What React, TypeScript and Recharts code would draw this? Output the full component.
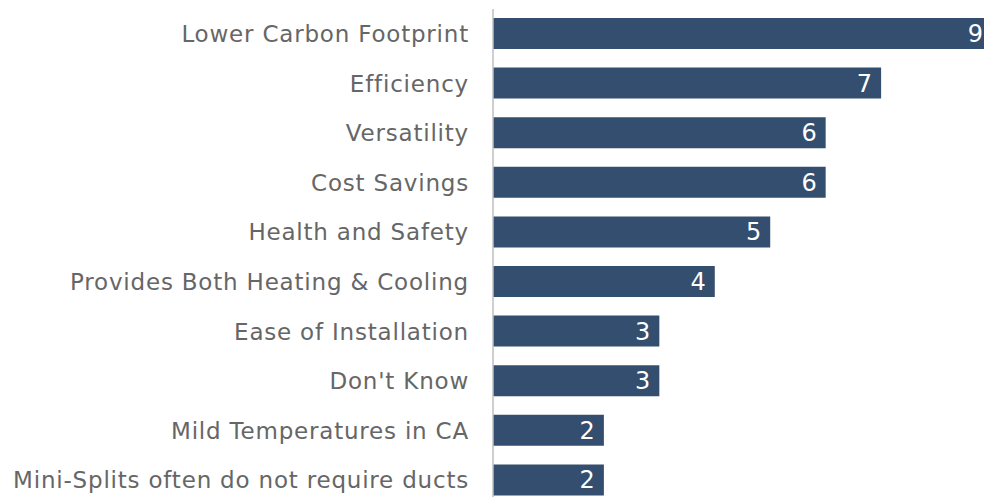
import { Bar, BarChart, LabelList, XAxis, YAxis } from "recharts";

const categories = [
  "Lower Carbon Footprint",
  "Efficiency",
  "Versatility",
  "Cost Savings",
  "Health and Safety",
  "Provides Both Heating & Cooling",
  "Ease of Installation",
  "Don't Know",
  "Mild Temperatures in CA",
  "Mini-Splits often do not require ducts",
];

const counts = [9, 7, 6, 6, 5, 4, 3, 3, 2, 2];

const data = categories.map((name, i) => ({ name, count: counts[i] }));

const FONT = "'DejaVu Sans', Verdana, sans-serif";

export default function App() {
  return (
    <div
      style={{
        position: "fixed",
        left: 0,
        top: 0,
        width: 984,
        height: 497,
        overflow: "hidden",
        background: "#fff",
      }}
    >
      <BarChart
        width={1010}
        height={512}
        data={data}
        layout="vertical"
        margin={{ top: 9, right: 18, left: 0, bottom: 7 }}
      >
        <XAxis type="number" domain={[0, 9]} hide />
        <YAxis
          type="category"
          dataKey="name"
          width={493}
          tickLine={false}
          tickSize={0}
          tickMargin={24}
          axisLine={{ stroke: "#bfbfbf", strokeWidth: 1.5 }}
          tick={{ fill: "#666666", fontSize: 23, fontFamily: FONT, letterSpacing: 0.8 }}
          interval={0}
        />
        <Bar dataKey="count" fill="#334e6e" barSize={31} isAnimationActive={false}>
          <LabelList
            dataKey="count"
            position="insideRight"
            offset={9}
            fill="#ffffff"
            fontSize={24}
            fontFamily={FONT}
          />
        </Bar>
      </BarChart>
    </div>
  );
}
